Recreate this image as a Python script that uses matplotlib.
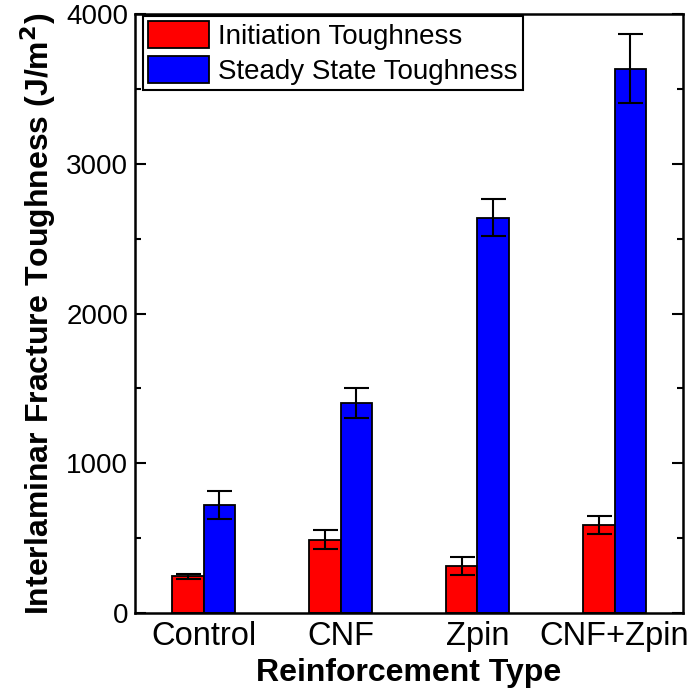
import numpy as np
import matplotlib
matplotlib.use("Agg")
from matplotlib import pyplot as plt

plt.rcParams['font.family'] = ['Liberation Sans', 'DejaVu Sans']

CATEGORIES = ['Control', 'CNF', 'Zpin', 'CNF+Zpin']
INIT = [245, 490, 315, 585]
INIT_ERR = [15, 65, 60, 60]
STEADY = [720, 1400, 2640, 3635]
STEADY_ERR = [95, 100, 125, 230]
YTICKS = [0, 1000, 2000, 3000, 4000]

WIDTH = 0.233

fig = plt.figure(figsize=(6.92, 6.92), dpi=100)
# axes frame: x 135..683 px, y 14..613 px
ax = fig.add_axes([135 / 692, 79 / 692, 548 / 692, 599 / 692])

x = np.arange(len(CATEGORIES))
ebar = dict(ecolor='black', elinewidth=1.5, capsize=9, capthick=1.5)
ax.bar(x - WIDTH / 2, INIT, WIDTH, yerr=INIT_ERR, color='#ff0000',
       edgecolor='black', linewidth=1.3, error_kw=ebar,
       label='Initiation Toughness')
ax.bar(x + WIDTH / 2, STEADY, WIDTH, yerr=STEADY_ERR, color='#0000ff',
       edgecolor='black', linewidth=1.3, error_kw=ebar,
       label='Steady State Toughness')

ax.set_xlim(-0.5, 3.5)
ax.set_ylim(0, 4000)
ax.set_xticks(x)
ax.set_xticklabels(CATEGORIES, fontsize=23.5)
ax.set_yticks(YTICKS)
ax.set_yticks(np.arange(0, 4001, 500), minor=True)
ax.tick_params(axis='y', which='both', direction='in', labelsize=20,
               right=True, pad=5, width=1.5)
ax.tick_params(axis='y', which='major', length=8)
ax.tick_params(axis='y', which='minor', length=4)
ax.tick_params(axis='x', length=0, pad=6)
for s in ax.spines.values():
    s.set_linewidth(1.8)

ax.set_xlabel('Reinforcement Type', fontsize=23, fontweight='bold', labelpad=4)
ax.set_ylabel('Interlaminar Fracture Toughness (J/m$^\\mathbf{2}$)',
              fontsize=23, fontweight='bold', labelpad=6)

leg = ax.legend(loc='upper left', bbox_to_anchor=(8 / 548, 1 - 2 / 599),
                fontsize=20, fancybox=False, edgecolor='black', framealpha=1,
                handlelength=2.2, handleheight=1.1, borderaxespad=0,
                borderpad=0.18, labelspacing=0.22, handletextpad=0.33)
leg.get_frame().set_linewidth(1.5)

plt.savefig('out.png', dpi=100)
